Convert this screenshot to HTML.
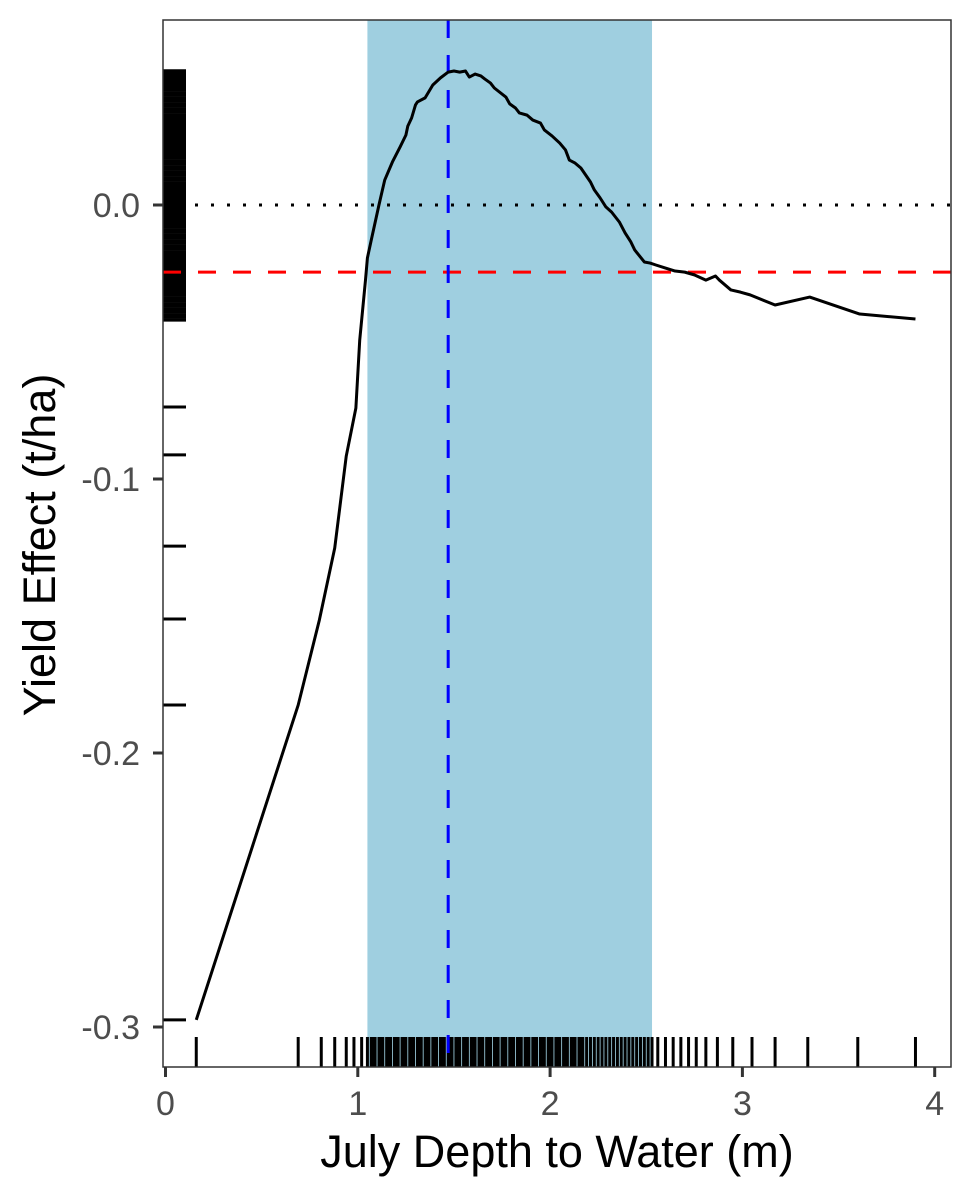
<!DOCTYPE html>
<html><head><meta charset="utf-8"><style>
html,body{margin:0;padding:0;background:#fff;}
svg{display:block;font-family:"Liberation Sans",sans-serif;}
</style></head><body>
<svg id="chart" width="975" height="1200" viewBox="0 0 975 1200" xmlns="http://www.w3.org/2000/svg"></svg>
<script>
const xTicks=[0,1,2,3,4];
const yTicks=[0,-0.1,-0.2,-0.3];
const yTickLabels=["0.0","-0.1","-0.2","-0.3"];
const curveX=[0.16,0.69,0.80,0.88,0.94,0.99,1.01,1.04,1.05,1.07,1.11,1.14,1.18,1.22,1.25,1.26,1.28,1.30,1.31,1.35,1.39,1.43,1.47,1.50,1.53,1.56,1.58,1.61,1.64,1.66,1.69,1.71,1.77,1.79,1.82,1.84,1.88,1.91,1.95,1.97,2.01,2.05,2.08,2.10,2.13,2.16,2.21,2.23,2.26,2.29,2.32,2.36,2.39,2.42,2.44,2.49,2.52,2.55,2.60,2.65,2.70,2.75,2.81,2.86,2.88,2.94,2.99,3.04,3.17,3.35,3.61,3.90];
const curveY=[-0.2974,-0.1825,-0.1515,-0.1252,-0.0916,-0.0741,-0.0493,-0.0274,-0.0193,-0.0128,0,0.0091,0.0157,0.0212,0.0255,0.0288,0.0318,0.0365,0.0376,0.0391,0.0438,0.0464,0.0485,0.0489,0.0485,0.0489,0.0467,0.0478,0.0471,0.046,0.0445,0.0427,0.0394,0.0369,0.0354,0.0336,0.0328,0.031,0.0299,0.0274,0.0252,0.0226,0.0201,0.0164,0.0153,0.0135,0.0084,0.0055,0.0026,-0.0007,-0.0026,-0.0062,-0.0102,-0.0135,-0.0164,-0.0208,-0.0212,-0.0219,-0.023,-0.0241,-0.0245,-0.0255,-0.0274,-0.0259,-0.0274,-0.031,-0.0318,-0.0328,-0.0365,-0.0336,-0.0398,-0.0416];
const rugX=[0.16,0.69,0.81,0.88,0.94,0.98,1.02,1.05,1.07,1.08,1.09,1.11,1.12,1.13,1.15,1.16,1.17,1.19,1.20,1.21,1.23,1.24,1.25,1.27,1.28,1.29,1.31,1.32,1.33,1.35,1.36,1.37,1.39,1.40,1.41,1.43,1.44,1.45,1.47,1.48,1.49,1.51,1.52,1.53,1.55,1.56,1.57,1.59,1.60,1.61,1.63,1.64,1.65,1.67,1.68,1.69,1.71,1.72,1.73,1.75,1.76,1.77,1.79,1.80,1.81,1.83,1.84,1.85,1.87,1.88,1.89,1.91,1.92,1.93,1.95,1.96,1.97,1.99,2.00,2.01,2.03,2.04,2.05,2.07,2.08,2.09,2.11,2.12,2.13,2.15,2.16,2.17,2.19,2.21,2.23,2.25,2.27,2.29,2.31,2.33,2.35,2.37,2.39,2.41,2.43,2.45,2.47,2.49,2.51,2.53,2.56,2.60,2.64,2.68,2.72,2.76,2.81,2.87,2.95,3.05,3.17,3.34,3.60,3.90];
const rugY=[0.049,0.048,0.047,0.046,0.045,0.044,0.043,0.042,0.041,0.040,0.039,0.038,0.037,0.036,0.035,0.034,0.033,0.032,0.031,0.030,0.029,0.028,0.027,0.026,0.025,0.024,0.023,0.022,0.021,0.020,0.019,0.018,0.017,0.016,0.015,0.014,0.013,0.012,0.011,0.010,0.009,0.008,0.007,0.006,0.005,0.004,0.003,0.002,0.001,0,-0.001,-0.002,-0.003,-0.004,-0.005,-0.006,-0.007,-0.008,-0.009,-0.010,-0.011,-0.012,-0.013,-0.014,-0.015,-0.016,-0.017,-0.018,-0.019,-0.020,-0.021,-0.022,-0.023,-0.024,-0.025,-0.026,-0.027,-0.028,-0.029,-0.030,-0.031,-0.032,-0.033,-0.034,-0.035,-0.036,-0.037,-0.038,-0.039,-0.040,-0.041,-0.042,-0.0737,-0.0912,-0.1245,-0.1511,-0.1825,-0.2974];
const bandLow=1.05, bandHigh=2.53, optimum=1.47, meanEffect=-0.0245;

const L=163,R=951,T=20,B=1067;
const X=v=>165.5+v*192.3;
const Y=v=>205-v*2740;
const svg=document.getElementById('chart');
const NS='http://www.w3.org/2000/svg';
function mk(tag,attrs,parent){const e=document.createElementNS(NS,tag);for(const k in attrs)e.setAttribute(k,attrs[k]);(parent||svg).appendChild(e);return e;}

let e=mk('rect',{x:X(bandLow),y:T,width:X(bandHigh)-X(bandLow),height:B-T,fill:'#9fcfe0'});



const rg=mk('g',{stroke:'#000','stroke-width':3});


rugX.forEach(v=>{const l=mk('line',{x1:X(v),x2:X(v),y1:1037,y2:1067},rg);

});
const ry=mk('g',{stroke:'#000','stroke-width':3});


rugY.forEach(v=>{const l=mk('line',{x1:163,x2:186,y1:Y(v),y2:Y(v)},ry);

});

e=mk('line',{x1:L,x2:R,y1:Y(0),y2:Y(0),stroke:'#000','stroke-width':3,'stroke-dasharray':'3 13'});


e=mk('line',{x1:L,x2:R,y1:Y(meanEffect),y2:Y(meanEffect),stroke:'#ff0000','stroke-width':3,'stroke-dasharray':'18 17'});



e=mk('line',{x1:X(optimum),x2:X(optimum),y1:T,y2:B,stroke:'#0000ff','stroke-width':3,'stroke-dasharray':'18 17'});



e=mk('polyline',{points:curveX.map((v,i)=>X(v)+','+Y(curveY[i])).join(' '),fill:'none',stroke:'#000','stroke-width':3,'stroke-linejoin':'round'});



e=mk('rect',{x:L,y:T,width:R-L,height:B-T,fill:'none',stroke:'#333','stroke-width':1.5});



xTicks.forEach(v=>{mk('line',{x1:X(v),x2:X(v),y1:B,y2:B+10,stroke:'#333','stroke-width':3});
const t=mk('text',{x:X(v),y:1115,'text-anchor':'middle','font-size':34,fill:'#4d4d4d'});t.textContent=v;

});
yTicks.forEach((v,i)=>{mk('line',{x1:L-10,x2:L,y1:Y(v),y2:Y(v),stroke:'#333','stroke-width':3});
const t=mk('text',{x:140,y:Y(v)+12,'text-anchor':'end','font-size':34,fill:'#4d4d4d'});t.textContent=yTickLabels[i];

});

e=mk('text',{x:557,y:1167,'text-anchor':'middle','font-size':45,fill:'#000'});e.textContent='July Depth to Water (m)';


e=mk('text',{x:0,y:0,'text-anchor':'middle','font-size':45,fill:'#000',transform:'translate(55,545) rotate(-90)'});e.textContent='Yield Effect (t/ha)';


</script>
</body></html>
